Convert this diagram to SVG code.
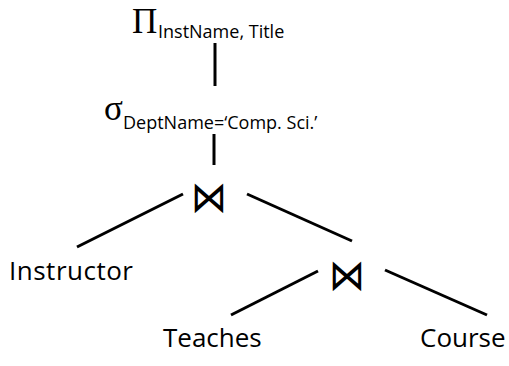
<svg xmlns="http://www.w3.org/2000/svg" width="509" height="366" viewBox="0 0 509 366">
  <style>
    .edge { stroke: #000; stroke-width: 3; stroke-linecap: butt; fill: none; }
    .op { font-family: "Liberation Serif", "Times New Roman", serif; font-size: 35px; fill: #000; }
    .sub { font-family: "Open Sans", "Noto Sans", sans-serif; font-size: 18px; fill: #000; }
    .rel { font-family: "Open Sans", "Noto Sans", sans-serif; font-size: 26px; fill: #000; }
    .join { font-family: "DejaVu Sans", sans-serif; font-size: 36px; fill: #000; text-anchor: middle; }
  </style>
  <rect width="509" height="366" fill="#fff"/>

  <!-- tree edges -->
  <g id="connectors">
    <line class="edge" x1="215" y1="43" x2="215" y2="86"/>
    <line class="edge" x1="214" y1="134" x2="214" y2="165"/>
    <line class="edge" x1="183" y1="194" x2="77" y2="247"/>
    <line class="edge" x1="247" y1="194" x2="352" y2="241"/>
    <line class="edge" x1="318" y1="271" x2="231" y2="315"/>
    <line class="edge" x1="385" y1="270" x2="487" y2="315"/>
  </g>

  <!-- projection -->
  <g id="project">
    <text class="op" x="132" y="33">Π</text>
    <text class="sub" x="158" y="38" xml:space="preserve">InstName, Title</text>
  </g>

  <!-- selection -->
  <g id="select">
    <text class="op" x="104" y="120">σ</text>
    <text class="sub" x="123" y="129">DeptName=‘Comp. Sci.’</text>
  </g>

  <!-- joins (bowtie stretched a little vertically) -->
  <g id="join1" transform="translate(209 198) scale(1 1.2)">
    <text class="join" x="0" y="12">⋈</text>
  </g>
  <g id="join2" transform="translate(347 276) scale(1 1.2)">
    <text class="join" x="0" y="12">⋈</text>
  </g>

  <!-- base relations -->
  <g id="instructor">
    <text class="rel" x="9" y="280" textLength="124">Instructor</text>
  </g>
  <g id="teaches">
    <text class="rel" x="163" y="347">Teaches</text>
  </g>
  <g id="course">
    <text class="rel" x="420" y="347">Course</text>
  </g>
</svg>
